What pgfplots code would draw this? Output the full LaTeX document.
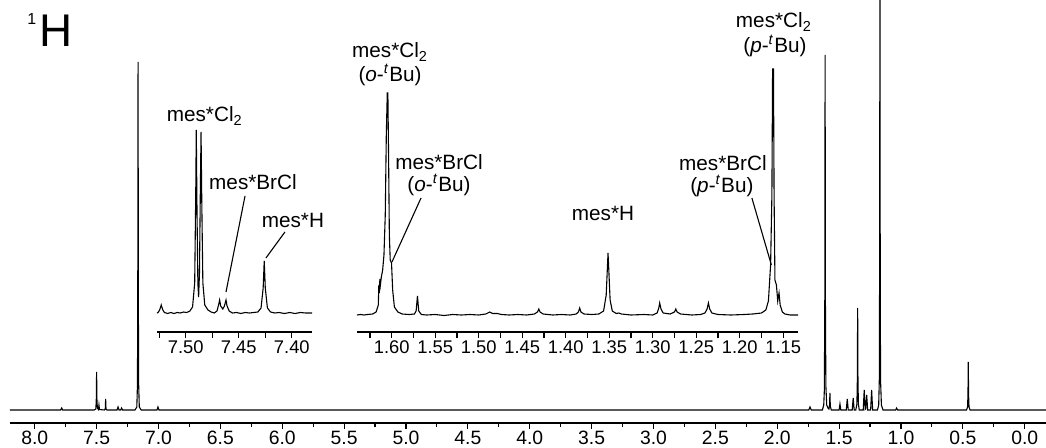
\documentclass[border=0pt]{standalone}
\usepackage{fontspec}
\setmainfont{Liberation Sans}
\usepackage{pgfplots}
\pgfplotsset{compat=1.18}

\newcommand{\lab}{\fontsize{10.4}{12}\selectfont}
\newcommand{\tkl}{\fontsize{9.7}{11}\selectfont}
\newcommand{\tks}{\fontsize{9.2}{11}\selectfont}
\newcommand{\tBu}[1]{(\textit{#1}-\textsuperscript{\textit{t}}Bu)}

\pgfplotsset{
  nmr/.style={
    scale only axis, clip=false,
    axis x line=bottom, axis y line=none,
    axis line style={-, line width=0.55bp},
    x dir=reverse, ytick=\empty,
    tick align=outside,
    tick style={black, line width=0.55bp},
    major tick length=3bp, minor tick length=3bp,
    xticklabel style={font=\tkl, inner sep=1bp,
      /pgf/number format/assume math mode=true,
      /pgf/number format/fixed,
      /pgf/number format/fixed zerofill},
  },
  spec/.style={black, line width=0.55bp, mark=none},
}

\begin{document}
\begin{tikzpicture}
\path[use as bounding box] (0,0) rectangle (523bp,-224bp);

% full spectrum
\begin{axis}[nmr,
  at={(5bp,-211.5bp)}, anchor=south west,
  width=518bp, height=211.5bp,
  xmin=-0.172, xmax=8.2, ymin=-13, ymax=410,
  xtick={0,0.5,...,8}, minor x tick num=1, minor tick length=2bp,
  xticklabel style={/pgf/number format/precision=1},
]
\addplot[spec] coordinates {
  (8.2,0) (7.79,0) (7.782,2) (7.774,0)
  (7.52,0) (7.506,1) (7.5025,11) (7.5,38) (7.4975,11) (7.494,2) (7.485,0.5) (7.481,5) (7.477,0.5)
  (7.437,0) (7.43,1) (7.427,11) (7.424,1) (7.417,0)
  (7.335,0) (7.327,3) (7.319,0) (7.305,0) (7.298,2) (7.29,0)
  (7.19,0) (7.175,3) (7.17,25) (7.1675,105) (7.165,348) (7.1625,105) (7.16,25) (7.155,3) (7.14,0)
  (7.012,0) (7.004,3) (6.996,0)
  (1.745,0) (1.735,3) (1.725,0)
  (1.635,0) (1.624,5) (1.619,20) (1.6155,110) (1.613,355) (1.6105,110) (1.607,25) (1.600,5) (1.590,2) (1.582,1)
  (1.577,5) (1.574,17) (1.571,4) (1.563,0)
  (1.500,0) (1.493,6) (1.486,0)
  (1.442,0) (1.434,11) (1.426,0)
  (1.394,0) (1.386,12) (1.378,0)
  (1.365,0) (1.356,6) (1.3525,30) (1.350,102) (1.3475,30) (1.344,6) (1.337,0)
  (1.305,0) (1.297,20) (1.289,0.5) (1.285,1) (1.277,15) (1.269,0)
  (1.245,0) (1.237,20) (1.229,0)
  (1.19,0) (1.180,5) (1.175,30) (1.1725,140) (1.170,430) (1.1675,140) (1.165,30) (1.158,5) (1.145,0)
  (1.043,0) (1.035,2) (1.027,0)
  (0.47,0) (0.462,3) (0.4585,15) (0.456,48) (0.4535,15) (0.45,3) (0.442,0)
  (-0.172,0)
};
\node[anchor=base west, inner sep=0pt] at (axis cs:8.063,363)
  {\raisebox{11bp}{\fontsize{8}{9}\selectfont 1}\hspace{1.5bp}\fontsize{23}{26}\selectfont H};
\end{axis}

% aromatic inset
\begin{axis}[nmr,
  at={(78.5bp,-166bp)}, anchor=south west,
  width=77.5bp, height=109.5bp,
  xmin=7.381, xmax=7.527, ymin=-19, ymax=200,
  xtick={7.40,7.45,7.50}, minor xtick={7.425,7.475,7.525},
  xticklabel style={font=\tks, /pgf/number format/precision=2},
]
\addplot[spec] coordinates {
  (7.527,0) (7.526,0.5) (7.5245,3) (7.523,8) (7.5215,3) (7.520,0.5) (7.517,-0.5) (7.514,0.5)
  (7.511,-0.5) (7.508,0.5) (7.505,0) (7.502,1) (7.499,0.5) (7.496,2) (7.4935,6)
  (7.4915,30) (7.4905,120) (7.4900,183) (7.4893,100) (7.4885,30) (7.4878,16) (7.4870,40)
  (7.4862,120) (7.4855,181) (7.4848,110) (7.4838,30) (7.482,8) (7.479,3) (7.476,1)
  (7.473,0) (7.4705,2) (7.469,8) (7.468,13) (7.467,7) (7.465,4) (7.4635,7) (7.462,13)
  (7.461,7) (7.459,2) (7.456,0) (7.452,0.5) (7.448,-0.5) (7.444,0.5) (7.440,0) (7.436,0.5)
  (7.432,1) (7.429,5) (7.427,25) (7.426,52) (7.425,25) (7.423,5) (7.420,1) (7.416,0)
  (7.412,0.5) (7.407,-0.5) (7.402,0.5) (7.397,-0.5) (7.392,0.5) (7.387,0) (7.381,0)
};
\node[font=\lab] at (axis cs:7.482,197) {mes*Cl\textsubscript{2}};
\node[font=\lab] at (axis cs:7.4366,131) {mes*BrCl};
\node[font=\lab] at (axis cs:7.399,93) {mes*H};
\draw[line width=0.55bp] (axis cs:7.4441,117) -- (axis cs:7.4620,21);
\draw[line width=0.55bp] (axis cs:7.4065,81) -- (axis cs:7.4244,55);
\end{axis}

% aliphatic inset
\begin{axis}[nmr,
  at={(178.5bp,-166bp)}, anchor=south west,
  width=220.5bp, height=133.5bp,
  xmin=1.133, xmax=1.640, ymin=-17, ymax=250,
  xtick={1.15,1.20,...,1.61},
  minor xtick={1.175,1.225,1.275,1.325,1.375,1.425,1.475,1.525,1.575,1.625},
  xticklabel style={font=\tks, /pgf/number format/precision=2},
]
\addplot[spec] coordinates {
  (1.640,0) (1.636,0.5) (1.632,0) (1.628,0.5) (1.622,1) (1.618,3) (1.6155,10) (1.6149,30)
  (1.6143,22) (1.6137,36) (1.6131,30) (1.6120,38) (1.6105,45) (1.6090,60) (1.6075,100)
  (1.6063,180) (1.6052,222) (1.6045,222) (1.6037,160) (1.6028,80) (1.6018,55) (1.6003,52)
  (1.5990,25) (1.597,8) (1.593,3) (1.588,1) (1.580,0.5) (1.574,1) (1.572,4) (1.5705,19)
  (1.569,4) (1.566,0.5) (1.560,0) (1.55,0.5) (1.54,-0.5) (1.53,0.5) (1.52,0) (1.51,0.5)
  (1.50,0) (1.492,1) (1.4874,3) (1.484,1.5) (1.4785,1.5) (1.474,0.5) (1.465,0) (1.455,0.5)
  (1.445,0) (1.436,1) (1.4325,3) (1.431,6) (1.4295,3) (1.426,1) (1.415,0) (1.405,0.5)
  (1.395,0) (1.388,1) (1.3855,3) (1.384,7) (1.3825,3) (1.379,1) (1.370,0.5) (1.362,1)
  (1.3565,4) (1.3535,20) (1.3520,50) (1.3514,62) (1.3505,45) (1.3490,15) (1.3465,4)
  (1.342,1.5) (1.339,2) (1.336,1) (1.325,0) (1.31,0.5) (1.300,0) (1.295,2) (1.293,7)
  (1.292,12) (1.2905,6) (1.288,2) (1.280,1) (1.275,3) (1.2735,6) (1.272,3) (1.268,1)
  (1.255,0) (1.245,0.5) (1.240,2) (1.2375,6) (1.236,12) (1.2345,6) (1.232,2) (1.225,0.5)
  (1.210,0) (1.195,0.5) (1.185,1) (1.175,2) (1.170,5) (1.167,14) (1.1645,50) (1.1630,120)
  (1.1622,246) (1.1612,246) (1.1605,120) (1.1595,35) (1.1578,30) (1.1563,14) (1.1548,22)
  (1.1535,10) (1.151,3) (1.148,1) (1.142,0) (1.133,0)
};
\node[font=\lab] at (axis cs:1.602,263) {mes*Cl\textsubscript{2}};
\node[font=\lab] at (axis cs:1.602,240) {\tBu{o}};
\node[font=\lab] at (axis cs:1.5457,153) {mes*BrCl};
\node[font=\lab] at (axis cs:1.5457,130) {\tBu{o}};
\draw[line width=0.55bp] (axis cs:1.5664,117) -- (axis cs:1.5998,53);
\node[font=\lab] at (axis cs:1.3572,102) {mes*H};
\node[font=\lab] at (axis cs:1.2193,152) {mes*BrCl};
\node[font=\lab] at (axis cs:1.2205,129) {\tBu{p}};
\draw[line width=0.55bp] (axis cs:1.1860,117) -- (axis cs:1.1636,50);
\node[font=\lab] at (axis cs:1.1607,293) {mes*Cl\textsubscript{2}};
\node[font=\lab] at (axis cs:1.1595,269) {\tBu{p}};
\end{axis}
\end{tikzpicture}
\end{document}
